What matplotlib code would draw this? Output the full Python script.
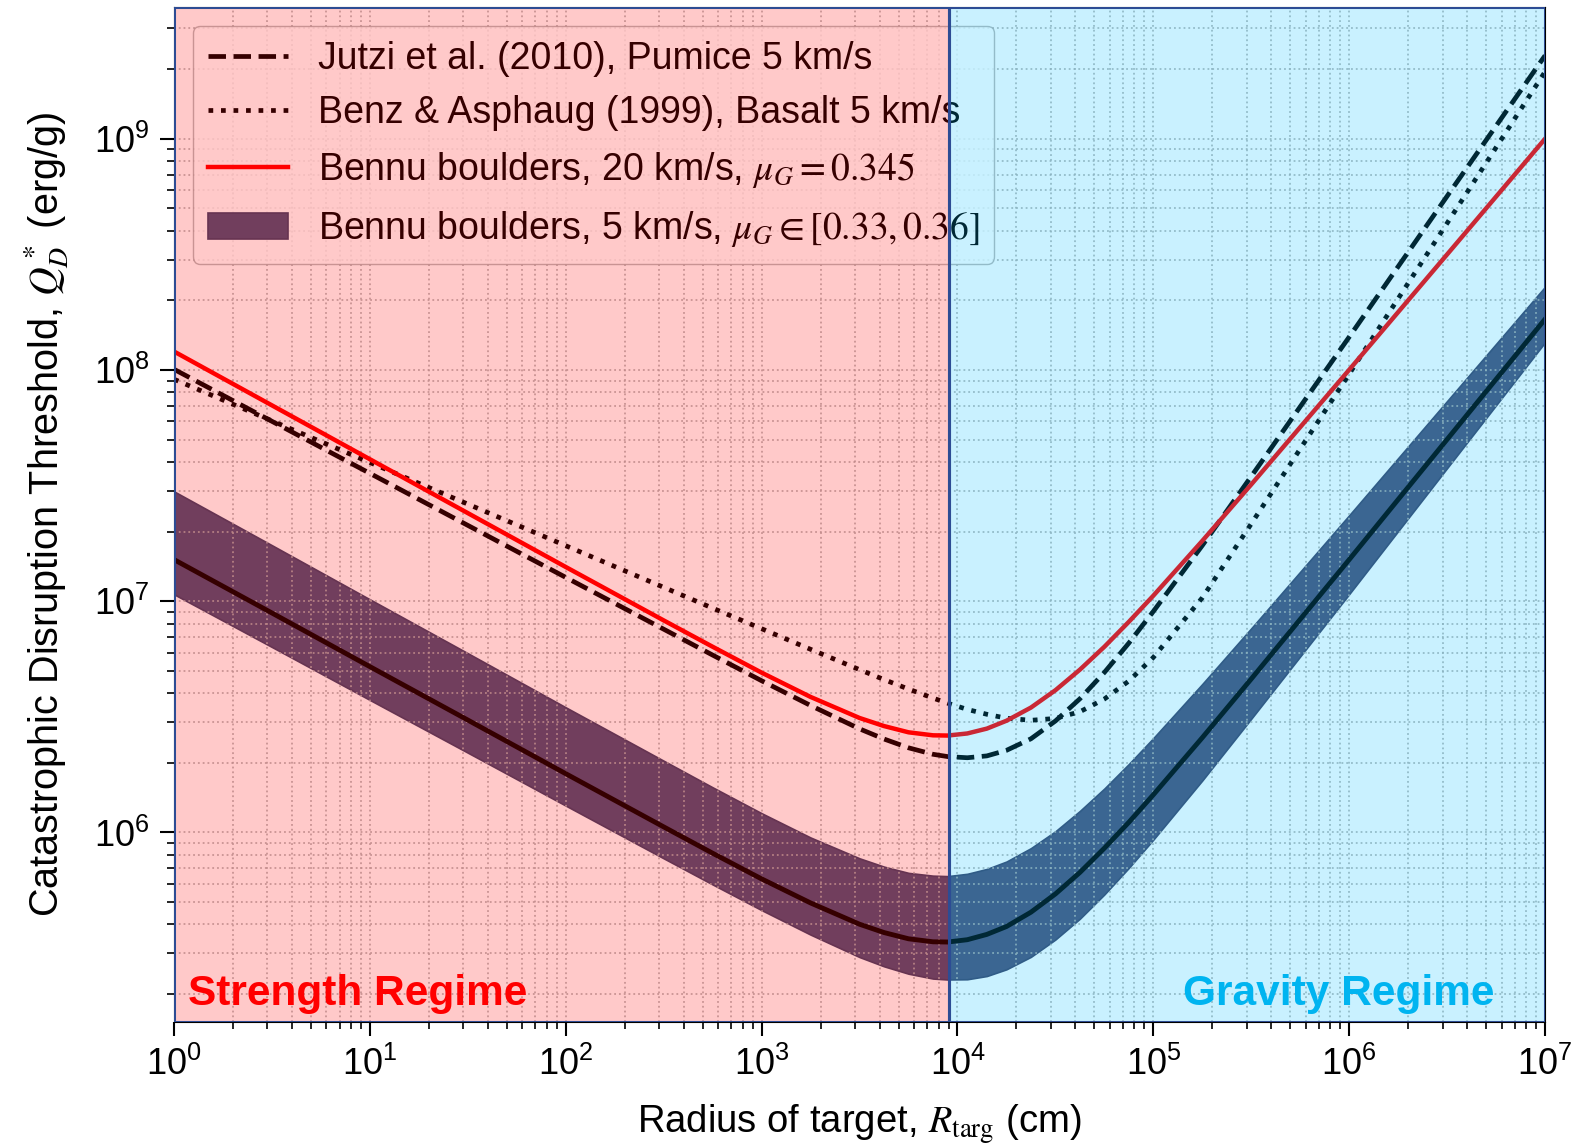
"""
Catastrophic disruption threshold Q*_D vs target radius (strength / gravity regimes).
"""
import matplotlib
matplotlib.use("Agg")
import matplotlib.pyplot as plt
import numpy as np

plt.rcParams["font.family"] = ["Liberation Sans", "DejaVu Sans"]
plt.rcParams["mathtext.fontset"] = "stix"

# --------------------------------------------------------------------------- #
# values: log10 R (cm) and log10 Q*_D (erg/g)
# --------------------------------------------------------------------------- #
log_r = [0, 0.5, 1, 1.5, 2, 2.5, 2.75, 3, 3.25, 3.5, 3.625, 3.75, 3.875, 3.95,
         4.05, 4.15, 4.25, 4.375, 4.5, 4.625, 4.75, 4.875, 5, 5.25, 5.5, 6,
         6.5, 7]

jutzi_logq = [8.003, 7.778, 7.553, 7.328, 7.103, 6.879, 6.767, 6.656, 6.549,
              6.448, 6.404, 6.366, 6.338, 6.328, 6.323, 6.331, 6.355, 6.405,
              6.482, 6.578, 6.692, 6.819, 6.956, 7.241, 7.54, 8.143, 8.752,
              9.36]

benz_logq = [7.96, 7.78, 7.60, 7.42, 7.24, 7.06, 6.97, 6.881, 6.792, 6.704,
             6.661, 6.62, 6.581, 6.559, 6.532, 6.511, 6.494, 6.485, 6.493,
             6.522, 6.577, 6.655, 6.757, 7.015, 7.335, 7.983, 8.635, 9.29]

bennu20_logq = [8.08, 7.847, 7.614, 7.381, 7.148, 6.917, 6.803, 6.691, 6.586,
                6.495, 6.460, 6.433, 6.420, 6.419, 6.428, 6.449, 6.483, 6.540,
                6.615, 6.704, 6.803, 6.911, 7.024, 7.261, 7.505, 8.001, 8.5,
                9.0]

bennu5_mid = [7.18, 6.949, 6.717, 6.486, 6.254, 6.024, 5.91, 5.799, 5.695,
              5.603, 5.567, 5.54, 5.527, 5.526, 5.536, 5.559, 5.593, 5.655,
              5.734, 5.827, 5.932, 6.044, 6.163, 6.41, 6.664, 7.18, 7.70, 8.22]
bennu5_hi = [7.475, 7.242, 7.008, 6.775, 6.541, 6.31, 6.195, 6.083, 5.978,
             5.888, 5.852, 5.825, 5.813, 5.811, 5.821, 5.842, 5.874, 5.932,
             6.005, 6.093, 6.19, 6.296, 6.408, 6.642, 6.883, 7.372, 7.866,
             8.36]
bennu5_lo = [7.03, 6.802, 6.573, 6.345, 6.116, 5.888, 5.775, 5.664, 5.558,
             5.461, 5.421, 5.389, 5.368, 5.364, 5.365, 5.379, 5.408, 5.462,
             5.537, 5.627, 5.732, 5.847, 5.969, 6.225, 6.492, 7.031, 7.576,
             8.12]

r_transition = 9.0e3  # strength / gravity boundary (cm)


def p10(vals):
    return np.power(10.0, np.asarray(vals, dtype=float))


r = p10(log_r)

fig = plt.figure(figsize=(15.75, 11.45), dpi=100)
ax = fig.add_axes([0.1105, 0.1074, 0.8705, 0.8865])
ax.set_xscale("log")
ax.set_yscale("log")

# band + lines
ax.fill_between(r, p10(bennu5_lo), p10(bennu5_hi),
                facecolor="#4b4f76", edgecolor="#3e4268", lw=1.2, zorder=1,
                label=r"Bennu boulders, 5 km/s, $\mu_G \in [0.33, 0.36]$")
ax.plot(r, p10(bennu5_mid), color="black", lw=3.5, zorder=3)
ax.plot(r, p10(jutzi_logq), color="black", lw=3.4, ls="--",
        zorder=3, label="Jutzi et al. (2010), Pumice 5 km/s")
ax.plot(r, p10(benz_logq), color="black", lw=3.4, ls=":",
        zorder=3, label="Benz & Asphaug (1999), Basalt 5 km/s")
ax.plot(r, p10(bennu20_logq), color="#ff0000", lw=3.2,
        zorder=3, label=r"Bennu boulders, 20 km/s, $\mu_G = 0.345$")

ax.set_xlim(1, 1e7)
ax.set_ylim(10 ** 5.18, 10 ** 9.57)

ax.grid(True, which="both", ls=":", lw=1.3, color="#b0b0b0", alpha=0.85)
ax.set_axisbelow(False)

handles, labels = ax.get_legend_handles_labels()
order = [1, 2, 3, 0]
leg = ax.legend([handles[i] for i in order], [labels[i] for i in order],
                loc="upper left", fontsize=27, handlelength=2.13,
                borderaxespad=0.5, labelspacing=0.5, framealpha=0.8,
                edgecolor="#aaaaaa")
leg.set_zorder(5)

# regime overlays (on top of everything, legend included)
ax.axvspan(1, r_transition, facecolor=(1.0, 0.0, 0.0, 0.21),
           edgecolor="#2d4c94", lw=2.2, zorder=6)
ax.axvspan(r_transition, 1e7, facecolor=(0.0, 0.75, 1.0, 0.21),
           edgecolor="#2d4c94", lw=2.2, zorder=6)

ax.text(0.01, 0.028, "Strength Regime", transform=ax.transAxes, color="#ff0000",
        fontsize=30.5, fontweight="bold", ha="left", va="center", zorder=7)
ax.text(0.963, 0.028, "Gravity Regime", transform=ax.transAxes, color="#00b4f0",
        fontsize=30.5, fontweight="bold", ha="right", va="center", zorder=7)

ax.tick_params(which="major", length=10, width=1.5, labelsize=26, pad=8)
ax.tick_params(which="minor", length=5, width=1.2)
ax.set_xticks(p10(range(0, 8)))
ax.set_yticks(p10(range(6, 10)))

ax.set_xlabel(r"Radius of target, $R_{\rm targ}$ (cm)", fontsize=27.5, labelpad=14)
ax.set_ylabel(r"Catastrophic Disruption Threshold, $Q_D^*$ (erg/g)", fontsize=28.5,
              labelpad=16)

fig.savefig("out.png", dpi=100)
